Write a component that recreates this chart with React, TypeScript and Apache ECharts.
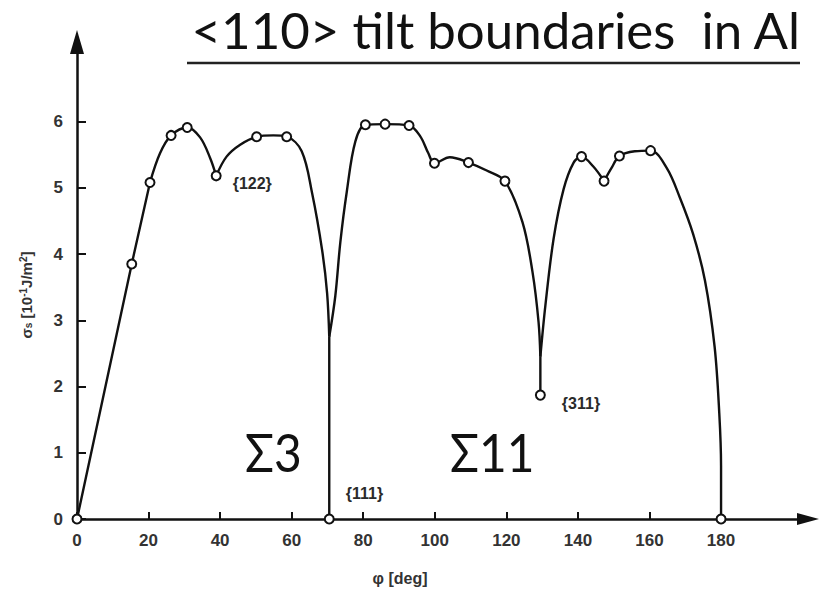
import React, { useEffect, useRef } from "react";
import * as echarts from "echarts";

// Tick values
const phiTicks = [0, 20, 40, 60, 80, 100, 120, 140, 160, 180];
const sigmaTicks = [0, 1, 2, 3, 4, 5, 6];

// Measured points (open circles)
const markerPhi = [0, 15.3, 20.4, 26.3, 30.8, 38.9, 50.2, 58.6, 70.5, 80.6, 86.1, 92.8, 99.9, 109.4, 119.6, 129.5, 141, 147.3, 151.6, 160.3, 180];
const markerSigma = [0, 3.85, 5.08, 5.79, 5.91, 5.18, 5.77, 5.77, 0, 5.95, 5.96, 5.94, 5.37, 5.38, 5.1, 1.87, 5.47, 5.1, 5.48, 5.56, 0];

// Point annotations
const annotPhi = [38.9, 70.5, 129.5];
const annotText = ["{122}", "{111}", "{311}"];

// Traced curve segments
const segAPhi = [0, 15.3, 20.4];
const segASig = [0, 3.85, 5.08];
const segBPhi = [20.4, 23.2, 26.3, 30.8, 34.4, 37.2, 38.9];
const segBSig = [5.08, 5.52, 5.79, 5.91, 5.76, 5.45, 5.18];
const segCPhi = [38.9, 41.8, 45.6, 50.2, 54.9, 58.6, 62.8, 65.7, 68.5, 69.9, 70.5];
const segCSig = [5.18, 5.47, 5.65, 5.77, 5.79, 5.77, 5.55, 4.92, 4.06, 3.41, 2.75];
const segDPhi = [70.5, 70.5];
const segDSig = [2.75, 0];
const segEPhi = [70.5, 72.2, 73.6, 75.4, 77.8, 80.6, 86.1, 92.8, 95.9, 98.2, 99.9, 104.2, 109.4, 114.5, 119.6, 124.5, 127.3, 129.0, 129.5];
const segESig = [2.75, 3.37, 4.18, 4.94, 5.7, 5.95, 5.96, 5.94, 5.78, 5.52, 5.37, 5.46, 5.38, 5.26, 5.1, 4.48, 3.73, 2.97, 2.45];
const segFPhi = [129.5, 129.5];
const segFSig = [2.45, 1.87];
const segGPhi = [129.5, 130.9, 133.2, 136.0, 138.8, 141, 144.3, 147.3];
const segGSig = [2.45, 3.22, 4.23, 4.98, 5.38, 5.47, 5.32, 5.1];
const segHPhi = [147.3, 149.4, 151.6, 155.9, 160.3, 164.8, 168.5, 172.2, 175.5, 178.2, 179.5, 180, 180];
const segHSig = [5.1, 5.3, 5.48, 5.55, 5.56, 5.3, 4.85, 4.3, 3.6, 2.6, 1.6, 0.8, 0];

const zip = (a: number[], b: number[]) => a.map((v, i) => [v, b[i]]);

const segments: { phi: number[]; sig: number[]; smooth: number | false }[] = [
  { phi: segAPhi, sig: segASig, smooth: false },
  { phi: segBPhi, sig: segBSig, smooth: 0.35 },
  { phi: segCPhi, sig: segCSig, smooth: 0.35 },
  { phi: segDPhi, sig: segDSig, smooth: false },
  { phi: segEPhi, sig: segESig, smooth: 0.35 },
  { phi: segFPhi, sig: segFSig, smooth: false },
  { phi: segGPhi, sig: segGSig, smooth: 0.35 },
  { phi: segHPhi, sig: segHSig, smooth: 0.35 },
];

const labelStyles: Record<string, any> = {
  "{122}": { position: "right", distance: 11, offset: [0, 8] },
  "{111}": { position: "right", distance: 11, offset: [0, -26] },
  "{311}": { position: "right", distance: 16, offset: [0, 8] },
};

const SANS = "Liberation Sans";

export default function App() {
  const ref = useRef<HTMLDivElement>(null);
  useEffect(() => {
    document.body.style.margin = "0";
    const chart = echarts.init(ref.current!, null, { renderer: "svg" });
    const lineSeries = segments.map((s) => ({
      type: "line",
      data: zip(s.phi, s.sig),
      smooth: s.smooth,
      showSymbol: false,
      symbol: "none",
      lineStyle: { color: "#111", width: 2.4 },
      z: 2,
      silent: true,
    }));
    const markerData = markerPhi.map((p, i) => {
      const idx = annotPhi.indexOf(p);
      const item: any = { value: [p, markerSigma[i]] };
      if (idx >= 0) {
        const t = annotText[idx];
        item.label = {
          show: true,
          formatter: () => t,
          fontFamily: SANS,
          fontWeight: "bold",
          fontSize: 16,
          color: "#2a2a2a",
          ...labelStyles[t],
        };
      }
      return item;
    });
    const option: any = {
      animation: false,
      backgroundColor: "#ffffff",
      grid: { left: 77, top: 42, right: 12, bottom: 77 },
      xAxis: {
        type: "value",
        min: 0,
        max: 204.3,
        axisLine: {
          show: true,
          lineStyle: { color: "#111", width: 2.5 },
          symbol: ["none", "triangle"],
          symbolSize: [12, 22],
        },
        axisTick: {
          show: true,
          inside: true,
          length: 7,
          lineStyle: { color: "#111", width: 2 },
          customValues: phiTicks,
        },
        axisLabel: {
          customValues: phiTicks,
          fontFamily: SANS,
          fontWeight: "bold",
          fontSize: 17,
          color: "#333",
          margin: 13,
        },
        splitLine: { show: false },
      },
      yAxis: {
        type: "value",
        min: 0,
        max: 7.2,
        axisLine: {
          show: true,
          lineStyle: { color: "#111", width: 2.5 },
          symbol: ["none", "triangle"],
          symbolSize: [14, 24],
        },
        axisTick: {
          show: true,
          inside: true,
          length: 9,
          lineStyle: { color: "#111", width: 2 },
          customValues: sigmaTicks,
        },
        axisLabel: {
          customValues: sigmaTicks,
          fontFamily: SANS,
          fontWeight: "bold",
          fontSize: 17,
          color: "#333",
          margin: 14,
        },
        splitLine: { show: false },
      },
      series: [
        ...lineSeries,
        {
          type: "scatter",
          data: markerData,
          symbol: "circle",
          symbolSize: 9,
          itemStyle: { color: "#ffffff", borderColor: "#111", borderWidth: 2, opacity: 1 },
          z: 5,
          silent: true,
        },
      ],
      graphic: [
        {
          type: "text",
          x: 800,
          y: 55,
          style: {
            text: "<110> tilt boundaries  in Al",
            fontFamily: "Lato",
            fontSize: 51,
            fill: "#111",
            textAlign: "right",
            textVerticalAlign: "bottom",
          },
        },
        {
          type: "line",
          shape: { x1: 187, y1: 63, x2: 800, y2: 63 },
          style: { stroke: "#222", lineWidth: 2.5 },
        },
        {
          type: "text",
          x: 245,
          y: 452,
          scaleX: 0.92,
          style: {
            text: "Σ3",
            fontFamily: "Lato",
            fontSize: 52,
            fill: "#111",
            textAlign: "left",
            textVerticalAlign: "middle",
          },
        },
        {
          type: "text",
          x: 450,
          y: 452,
          scaleX: 0.92,
          style: {
            text: "Σ11",
            fontFamily: "Lato",
            fontSize: 52,
            fill: "#111",
            textAlign: "left",
            textVerticalAlign: "middle",
          },
        },
        {
          type: "text",
          x: 400,
          y: 578,
          style: {
            text: "φ [deg]",
            fontFamily: SANS,
            fontWeight: "bold",
            fontSize: 16,
            fill: "#333",
            textAlign: "center",
            textVerticalAlign: "middle",
          },
        },
        {
          type: "text",
          x: 26,
          y: 295,
          rotation: Math.PI / 2,
          style: {
            text: "σ{sub|s} [10{sup|-1}J/m{sup|2}]",
            fontFamily: SANS,
            fontWeight: "bold",
            fontSize: 15,
            fill: "#333",
            textAlign: "center",
            textVerticalAlign: "middle",
            rich: {
              sub: { fontSize: 10, fontWeight: "bold", verticalAlign: "bottom", fontFamily: SANS, fill: "#333" },
              sup: { fontSize: 10, fontWeight: "bold", verticalAlign: "top", fontFamily: SANS, fill: "#333" },
            },
          },
        },
      ],
    };
    chart.setOption(option);
    return () => chart.dispose();
  }, []);
  return <div ref={ref} style={{ width: 820, height: 596 }} />;
}
